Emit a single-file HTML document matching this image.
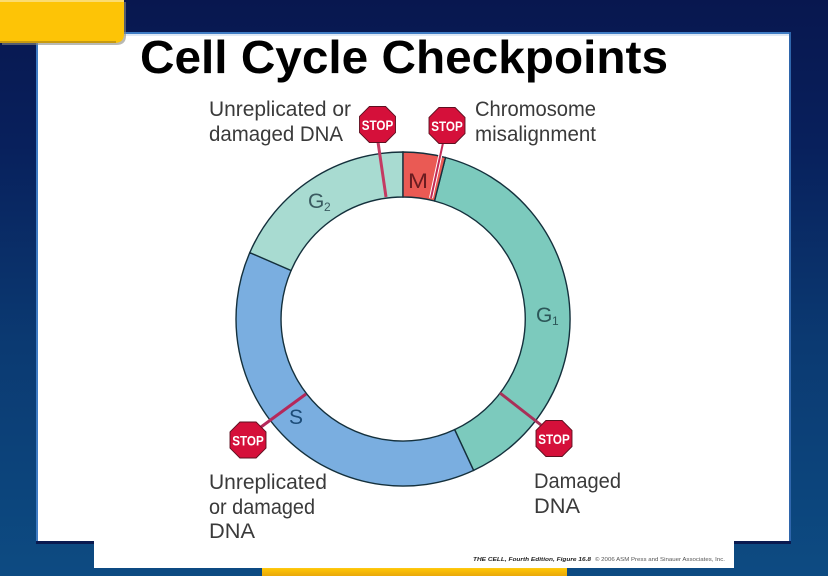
<!DOCTYPE html>
<html>
<head>
<meta charset="utf-8">
<style>
html,body{margin:0;padding:0;width:828px;height:576px;overflow:hidden;background:#0a1a55}
svg{display:block}
text{font-family:"Liberation Sans",sans-serif}
</style>
</head>
<body>
<svg width="828" height="576" viewBox="0 0 828 576" xmlns="http://www.w3.org/2000/svg">
<defs>
<linearGradient id="bg" x1="0" y1="0" x2="0" y2="1">
<stop offset="0" stop-color="#08174f"/>
<stop offset="0.25" stop-color="#08205c"/>
<stop offset="0.6" stop-color="#0b3a72"/>
<stop offset="1" stop-color="#0d4b82"/>
</linearGradient>
<linearGradient id="yb" x1="0" y1="0" x2="0" y2="1">
<stop offset="0" stop-color="#ffd84a"/>
<stop offset="0.3" stop-color="#fdc406"/>
<stop offset="1" stop-color="#e8a80a"/>
</linearGradient>
<g id="stop">
<polygon points="-9,-20 9,-20 20,-9 20,9 9,20 -9,20 -20,9 -20,-9" fill="#d5103a" stroke="#5c1020" stroke-width="1"/>
<text x="0" y="6" text-anchor="middle" font-size="15" font-weight="bold" fill="#fff" textLength="35" lengthAdjust="spacingAndGlyphs">STOP</text>
</g>
</defs>
<rect width="828" height="576" fill="url(#bg)"/>
<!-- main panel -->
<rect x="36" y="32" width="755" height="2" fill="#3f7cc4"/>
<rect x="36" y="32" width="2" height="510" fill="#3f7cc4"/>
<rect x="789" y="32" width="2" height="512" fill="#2f66ac"/>
<rect x="36" y="541" width="755" height="3" fill="#0a1a50"/>
<rect x="38" y="34" width="751" height="507" fill="#fff"/>
<rect x="38" y="34" width="751" height="2" fill="#dfe8f4"/>
<!-- yellow tabs -->
<path d="M0 0H124V34Q124 43 114 43H0Z" fill="#8a8a80" transform="translate(2,2)" opacity=".6"/>
<path d="M0 0H124V34Q124 43 114 43H0Z" fill="#fdc406"/>
<rect x="0" y="0" width="124" height="2" fill="#fbdc70"/>
<rect x="0" y="41" width="116" height="2" fill="#c79a10"/>
<rect x="262" y="566" width="305" height="10" fill="url(#yb)"/>
<!-- lower white -->
<rect x="94" y="500" width="640" height="68" fill="#fff"/>
<!-- title -->
<text x="140" y="73" font-size="46" font-weight="bold" fill="#000" textLength="528" lengthAdjust="spacingAndGlyphs">Cell Cycle Checkpoints</text>
<!-- ring -->
<g stroke="#14303c" stroke-width="1.4">
<path d="M445.5 157.5 A167 167 0 0 1 473.6 470.4 L454.6 429.6 A122 122 0 0 0 434.5 201 Z" fill="#7ccabd"/>
<path d="M473.6 470.4 A167 167 0 0 1 249.8 252.6 L291.1 270.5 A122 122 0 0 0 454.6 429.6 Z" fill="#7aaee0"/>
<path d="M249.8 252.6 A167 167 0 0 1 403 152 L403 197 A122 122 0 0 0 291.1 270.5 Z" fill="#a8dbd1"/>
<path d="M403 152 A167 167 0 0 1 445.5 157.5 L434.5 201 A122 122 0 0 0 403 197 Z" fill="#ea5a54"/>
</g>
<!-- connectors -->
<line x1="378" y1="142" x2="386" y2="197" stroke="#c43a62" stroke-width="3"/>
<line x1="443" y1="143" x2="431" y2="198" stroke="#fff" stroke-width="4"/>
<line x1="443" y1="143" x2="431" y2="198" stroke="#c22a55" stroke-width="2"/>
<line x1="500" y1="393" x2="541" y2="425" stroke="#a83058" stroke-width="3"/>
<line x1="306" y1="394" x2="261" y2="427" stroke="#b5285a" stroke-width="3"/>
<!-- stop signs -->
<use href="#stop" transform="translate(377.5,124.5) scale(.9)"/>
<use href="#stop" transform="translate(447,125.5) scale(.9)"/>
<use href="#stop" transform="translate(554,438.5) scale(.9)"/>
<use href="#stop" transform="translate(248,440) scale(.9)"/>
<!-- phase labels -->
<g fill="#14304a" font-size="21">
<text x="408" y="188" fill="#6a1c20" textLength="20" lengthAdjust="spacingAndGlyphs">M</text>
<text x="308" y="208" fill="#3a5a60">G</text><text x="324" y="211" font-size="12" fill="#3a5a60">2</text>
<text x="536" y="322" fill="#2c5658">G</text><text x="552" y="325" font-size="12" fill="#2c5658">1</text>
<text x="289" y="424" fill="#1c4c78">S</text>
</g>
<!-- annotation labels -->
<g fill="#3a3a3a" font-size="21">
<text x="209" y="116" textLength="142" lengthAdjust="spacingAndGlyphs">Unreplicated or</text>
<text x="209" y="141" textLength="134" lengthAdjust="spacingAndGlyphs">damaged DNA</text>
<text x="475" y="116" textLength="121" lengthAdjust="spacingAndGlyphs">Chromosome</text>
<text x="475" y="141" textLength="121" lengthAdjust="spacingAndGlyphs">misalignment</text>
<text x="209" y="489" textLength="118" lengthAdjust="spacingAndGlyphs">Unreplicated</text>
<text x="209" y="514" textLength="106" lengthAdjust="spacingAndGlyphs">or damaged</text>
<text x="209" y="538" textLength="46" lengthAdjust="spacingAndGlyphs">DNA</text>
<text x="534" y="488" textLength="87" lengthAdjust="spacingAndGlyphs">Damaged</text>
<text x="534" y="513" textLength="46" lengthAdjust="spacingAndGlyphs">DNA</text>
</g>
<!-- credit -->
<text x="473" y="561" font-size="5.6" font-weight="bold" font-style="italic" fill="#222" textLength="118" lengthAdjust="spacingAndGlyphs">THE CELL, Fourth Edition, Figure 16.8</text>
<text x="595" y="561" font-size="5.6" fill="#555" textLength="130" lengthAdjust="spacingAndGlyphs">© 2006 ASM Press and Sinauer Associates, Inc.</text>
</svg>
</body>
</html>
